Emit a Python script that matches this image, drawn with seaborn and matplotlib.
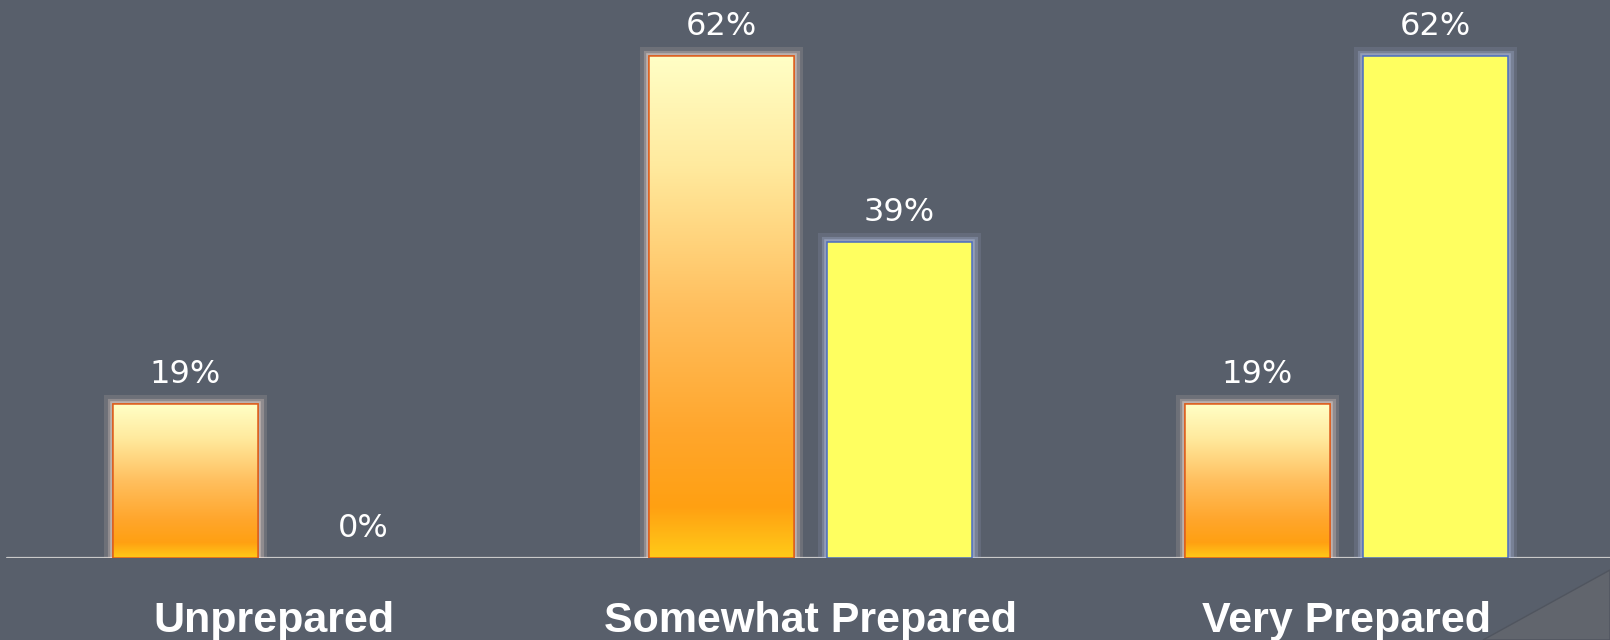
import numpy as np
import pandas as pd
import matplotlib
matplotlib.use("Agg")
import matplotlib.pyplot as plt
import matplotlib.patheffects as pe
from matplotlib.patches import Rectangle, Polygon
from matplotlib.colors import LinearSegmentedColormap
import seaborn as sns

# Survey results: share of respondents per preparedness level
categories = ["Unprepared", "Somewhat Prepared", "Very Prepared"]
series_names = ["Before", "After"]
before_pct = [19, 62, 19]
after_pct = [0, 39, 62]

BG = "#585F6B"
ORANGE_EDGE = "#DC5E1E"
YELLOW_FILL = "#FFFF60"
YELLOW_EDGE = "#4A6CC0"

sns.set_theme(style="white")
plt.rcParams["font.family"] = ["DejaVu Sans"]

df = pd.DataFrame({
    "category": categories * 2,
    "series": [series_names[0]] * len(categories) + [series_names[1]] * len(categories),
    "pct": before_pct + after_pct,
})

fig = plt.figure(figsize=(16.1, 6.4), dpi=100, facecolor=BG)
ax = fig.add_axes([0, 0.128, 1, 0.872])
ax.set_facecolor(BG)

sns.barplot(data=df, x="category", y="pct", hue="series",
            order=categories, hue_order=series_names,
            palette=["#FFA820", YELLOW_FILL], saturation=1,
            width=0.664, gap=0.185, legend=False, ax=ax, zorder=3)

xlim = (-0.512, 2.4925)
ylim = (0, 68.9)

# warm vertical gradient for the first series
warm = LinearSegmentedColormap.from_list("warm", [
    (0.00, "#FFFFC6"),
    (0.22, "#FFEA9E"),
    (0.50, "#FFBF5E"),
    (0.75, "#FFA62C"),
    (0.90, "#FFA012"),
    (1.00, "#FFCA18"),
])
grad = np.linspace(0, 1, 256).reshape(-1, 1)

glow_warm = [pe.Stroke(linewidth=13, foreground="#E9D2C6", alpha=0.15),
             pe.Stroke(linewidth=8, foreground="#EED8CC", alpha=0.28),
             pe.Stroke(linewidth=4, foreground="#F2DDD2", alpha=0.45),
             pe.Normal()]
glow_cool = [pe.Stroke(linewidth=13, foreground="#A9B6DA", alpha=0.15),
             pe.Stroke(linewidth=8, foreground="#AEBBDD", alpha=0.28),
             pe.Stroke(linewidth=4, foreground="#B4C0E0", alpha=0.45),
             pe.Normal()]

for i, container in enumerate(ax.containers):
    for patch in container.patches:
        h = patch.get_height()
        if h <= 0:
            patch.set_visible(False)
            continue
        x0, y0 = patch.get_x(), patch.get_y()
        w = patch.get_width()
        if i == 0:
            patch.set_edgecolor(ORANGE_EDGE)
            patch.set_linewidth(1.1)
            patch.set_path_effects(glow_warm)
            img = ax.imshow(grad, cmap=warm, aspect="auto", origin="upper",
                            extent=(x0, x0 + w, y0, y0 + h), zorder=3.5,
                            interpolation="bicubic")
            img.set_clip_path(patch)
            ax.add_patch(Rectangle((x0, y0), w, h, fill=False,
                                   edgecolor=ORANGE_EDGE, linewidth=1.1, zorder=4))
        else:
            patch.set_edgecolor(YELLOW_EDGE)
            patch.set_linewidth(1.1)
            patch.set_path_effects(glow_cool)

    ax.bar_label(container, fmt="{:g}%", padding=10, color="white",
                 fontsize=23, family="DejaVu Sans", zorder=5)

ax.set_xlim(*xlim)
ax.set_ylim(*ylim)

# baseline
ax.axhline(0, xmin=7 / 1610, xmax=1, color="#C9C9C9", linewidth=1.6, zorder=2)

for s in ax.spines.values():
    s.set_visible(False)
ax.set_yticks([])
ax.set_xlabel("")
ax.set_ylabel("")
ax.tick_params(axis="x", length=0, pad=31, labelsize=31, labelcolor="white")
for lbl in ax.get_xticklabels():
    lbl.set_fontweight("bold")
    lbl.set_fontfamily("Liberation Sans")

# folded-corner accent at the lower right of the slide
fig.add_artist(Polygon([(1483 / 1610, 0), (1, 70 / 640), (1, 0)], closed=True,
                       transform=fig.transFigure, facecolor="#61656D",
                       edgecolor="#50555F", linewidth=1.0, zorder=-1))

fig.savefig("out.png", dpi=100, facecolor=BG)
